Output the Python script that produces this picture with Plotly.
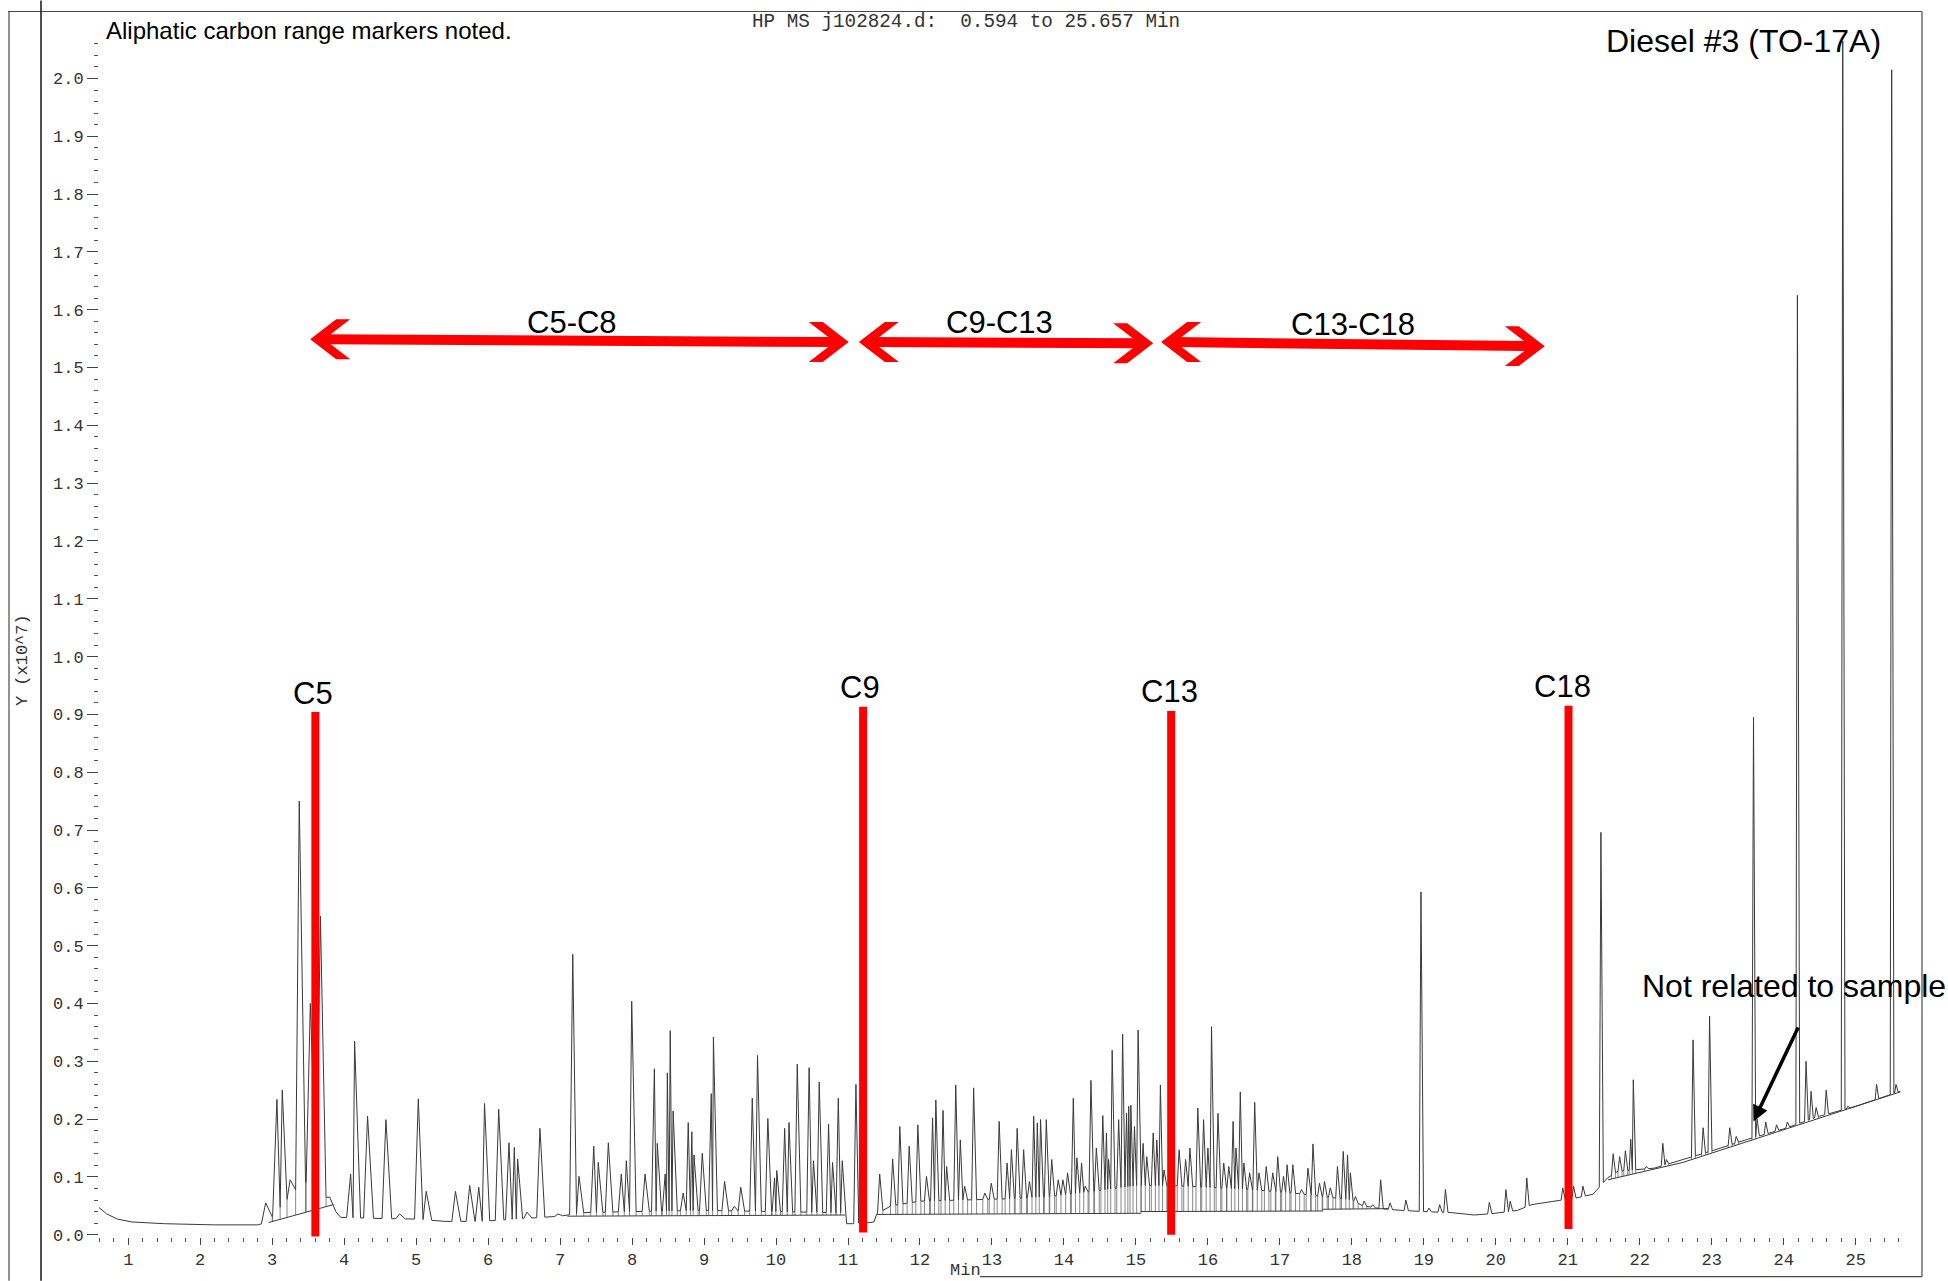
import numpy as np
import plotly.graph_objects as go

# ---------------------------------------------------------------------------
# Chromatogram: retention time (min) and apex response (Y x10^7)
# ---------------------------------------------------------------------------
peak_rt = [
    2.91, 3.066, 3.14, 3.25, 3.376, 3.53, 3.67, 3.80,
    4.09, 4.145, 4.325, 4.58, 4.77, 5.03, 5.14, 5.546, 5.744, 5.87, 5.95,
    6.147, 6.29, 6.364, 6.41, 6.54, 6.72, 6.97,
    7.176, 7.263, 7.468, 7.53, 7.67, 7.85, 7.92, 7.995, 8.18, 8.31, 8.35,
    8.46, 8.49, 8.53, 8.57, 8.71, 8.78, 8.83, 8.86, 8.975, 9.10, 9.13,
    9.285, 9.42, 9.51, 9.67, 9.743, 9.886, 9.98, 10.01, 10.12, 10.18,
    10.295, 10.46, 10.52, 10.60, 10.73, 10.785, 10.865, 10.92, 11.11,
    11.175, 11.44, 11.62,
    11.72, 11.85, 11.97, 12.09, 12.175, 12.22, 12.32, 12.37, 12.497, 12.56,
    12.62, 12.745, 12.90, 12.99, 13.10, 13.21, 13.27, 13.35, 13.44, 13.52,
    13.58, 13.63, 13.675, 13.755, 13.83, 13.92, 13.985, 14.05, 14.13, 14.18,
    14.245, 14.295, 14.375, 14.45, 14.54, 14.59, 14.62, 14.67, 14.76, 14.815,
    14.87, 14.90, 14.93, 14.98, 15.03, 15.10, 15.15, 15.24, 15.29, 15.34,
    15.39, 15.60, 15.69, 15.75, 15.86, 15.94, 16.00, 16.05, 16.14, 16.22,
    16.29, 16.35, 16.39, 16.45, 16.50, 16.58, 16.65, 16.71, 16.81, 16.90,
    16.97, 17.05, 17.10, 17.18, 17.30, 17.39, 17.46, 17.55, 17.62, 17.70,
    17.80, 17.88, 17.94, 17.98, 18.05, 18.17, 18.29, 18.40, 18.53, 18.75,
    18.96, 19.07, 19.22, 19.30, 19.91, 20.14, 20.20, 20.43, 20.93, 21.08,
    21.21, 21.46, 21.63, 21.72, 21.80, 21.875, 21.91, 22.09, 22.32, 22.37,
    22.74, 22.88, 22.97, 23.25, 23.34, 23.58, 23.63, 23.75, 23.90, 24.05,
    24.19, 24.31, 24.38, 24.45, 24.59, 24.82, 24.89, 25.29, 25.50, 25.56,
]
peak_apex = [
    0.055, 0.234, 0.250, 0.095, 0.750, 0.400, 0.551, 0.065,
    0.105, 0.335, 0.205, 0.199, 0.036, 0.235, 0.075, 0.075, 0.085, 0.082, 0.227,
    0.217, 0.159, 0.151, 0.131, 0.039, 0.184, 0.036,
    0.485, 0.101, 0.153, 0.125, 0.159, 0.105, 0.128, 0.404, 0.105, 0.287, 0.158,
    0.105, 0.280, 0.353, 0.214, 0.072, 0.194, 0.178, 0.138, 0.141, 0.244, 0.342,
    0.092, 0.049, 0.082, 0.236, 0.310, 0.201, 0.098, 0.111, 0.184, 0.194,
    0.295, 0.289, 0.128, 0.264, 0.191, 0.125, 0.236, 0.128, 0.260,
    0.288, 0.105, 0.131,
    0.187, 0.153, 0.190, 0.101, 0.202, 0.233, 0.215, 0.118, 0.259, 0.164,
    0.084, 0.254, 0.072, 0.089, 0.196, 0.124, 0.147, 0.184, 0.147, 0.092,
    0.205, 0.193, 0.199, 0.199, 0.130, 0.095, 0.095, 0.107, 0.236, 0.133,
    0.124, 0.084, 0.267, 0.150, 0.206, 0.176, 0.130, 0.319, 0.199, 0.347,
    0.210, 0.222, 0.224, 0.187, 0.354, 0.158, 0.135, 0.176, 0.164, 0.259,
    0.112, 0.147, 0.130, 0.150, 0.219, 0.199, 0.150, 0.360, 0.210, 0.124,
    0.118, 0.196, 0.150, 0.247, 0.124, 0.107, 0.229, 0.107, 0.118, 0.107,
    0.135, 0.101, 0.121, 0.121, 0.078, 0.115, 0.157, 0.089, 0.092, 0.081,
    0.118, 0.144, 0.138, 0.107, 0.066, 0.058, 0.052, 0.095, 0.055, 0.060,
    0.593, 0.046, 0.052, 0.078, 0.056, 0.078, 0.058, 0.098, 0.081, 0.084,
    0.084, 0.696, 0.140, 0.135, 0.145, 0.165, 0.268, 0.117, 0.158, 0.130,
    0.337, 0.185, 0.378, 0.185, 0.170, 0.895, 0.200, 0.195, 0.190, 0.195,
    1.625, 0.300, 0.248, 0.220, 0.250, 2.065, 0.220, 0.260, 2.015, 0.260,
]

# Signal level between peaks
floor_t = [0.594, 0.70, 0.85, 1.05, 1.5, 2.2, 2.8, 2.95, 3.02, 3.2, 3.3, 3.45,
           3.6, 3.72, 3.85, 3.95, 4.5, 5.0, 5.4, 5.9, 6.5, 7.0, 7.3, 8.0, 9.0,
           10.0, 10.9, 10.96, 10.98, 11.06, 11.3, 11.36, 11.40, 11.6, 12.0,
           12.6, 13.2, 13.8, 14.4, 15.0, 15.5, 16.0, 16.6, 17.2, 17.6, 18.0,
           18.15, 18.4, 18.7, 19.0, 19.4, 19.7, 20.0, 20.3, 20.5, 20.8, 21.1,
           21.35, 21.55, 21.7, 22.2, 22.6, 23.0, 23.5, 24.0, 24.5, 25.0, 25.62]
floor_y = [0.047, 0.036, 0.027, 0.022, 0.019, 0.017, 0.017, 0.022, 0.035, 0.060,
           0.075, 0.090, 0.095, 0.070, 0.045, 0.030, 0.028, 0.027, 0.023, 0.023,
           0.028, 0.032, 0.038, 0.040, 0.042, 0.040, 0.038, 0.034, 0.019, 0.019,
           0.021, 0.022, 0.036, 0.050, 0.058, 0.060, 0.062, 0.066, 0.075, 0.085,
           0.085, 0.082, 0.078, 0.072, 0.066, 0.060, 0.050, 0.045, 0.042, 0.040,
           0.038, 0.034, 0.037, 0.042, 0.052, 0.058, 0.063, 0.070, 0.098, 0.110,
           0.115, 0.130, 0.145, 0.165, 0.183, 0.205, 0.222, 0.248]

# Integration baselines (each pair of lists is one straight run)
integ_t = [[2.95, 3.85], [7.10, 10.96], [11.40, 15.07], [15.07, 17.60],
           [17.60, 18.50], [21.56, 22.60, 25.62]]
integ_y = [[0.021, 0.052], [0.032, 0.034], [0.035, 0.037], [0.040, 0.041],
           [0.044, 0.045], [0.095, 0.125, 0.247]]

# Carbon number markers
marker_labels = ["C5", "C9", "C13", "C18"]
marker_rt = [3.60, 11.21, 15.49, 21.01]
marker_top = [0.904, 0.913, 0.906, 0.915]
marker_bottom = [-0.003, 0.004, 0.0, 0.010]
marker_label_t = [3.57, 11.16, 15.46, 20.93]
marker_label_y = [0.937, 0.947, 0.939, 0.949]

# Carbon range spans
range_labels = ["C5-C8", "C9-C13", "C13-C18"]
range_start = [3.528, 11.15, 15.35]
range_end = [11.01, 15.24, 20.68]
range_y_start = [1.549, 1.544, 1.544]
range_y_end = [1.544, 1.542, 1.537]
range_label_t = [7.17, 13.11, 18.01]
range_label_y = [1.578, 1.578, 1.575]

# Contaminant note arrow (tail -> tip)
note_tail = (24.21, 0.361)
note_tip = (23.58, 0.196)

x_ticks = list(range(1, 26))
y_ticks = [round(0.1 * i, 1) for i in range(21)]

# ---------------------------------------------------------------------------
# Page geometry
# ---------------------------------------------------------------------------
W, H = 1948, 1281
M_L, M_R, M_T, M_B = 99, 45, 37.5, 43.7
X_RANGE = [0.594, 25.657]
Y_RANGE = [-0.004, 2.07]
PLOT_W = W - M_L - M_R
PLOT_H = H - M_T - M_B
PX_MIN = PLOT_W / (X_RANGE[1] - X_RANGE[0])
PX_UNIT = PLOT_H / (Y_RANGE[1] - Y_RANGE[0])


def xp(px):
    return (px - M_L) / PLOT_W


def yp(py):
    return (H - M_B - py) / PLOT_H


def floor_at(t):
    return float(np.interp(t, floor_t, floor_y))


def base_width(t):
    return float(np.interp(t, [3, 7, 12, 26], [0.15, 0.11, 0.07, 0.05]))


# ---------------------------------------------------------------------------
# Build the trace: each peak rises from the floor to its apex and tails off
# ---------------------------------------------------------------------------
order = np.argsort(peak_rt)
rt = np.array(peak_rt)[order]
ap = np.array(peak_apex)[order]
LEAD = 0.4
lw = np.array([LEAD * base_width(t) for t in rt])
rw = np.array([(1 - LEAD) * base_width(t) for t in rt])
left = rt - lw
right = rt + rw

pts = []
valleys = []
spans = []
i, n = 0, len(rt)
while i < n:
    j = i
    while j + 1 < n and left[j + 1] < right[j]:
        j += 1
    pts.append((left[i], floor_at(left[i])))
    valleys.append(left[i])
    for k in range(i, j + 1):
        pts.append((rt[k], max(ap[k], floor_at(rt[k]) + 0.004)))
        if k < j:
            d = rt[k + 1] - rt[k]
            tv = rt[k] + d * rw[k] / (rw[k] + lw[k + 1])
            pts.append((tv, floor_at(tv)))
            valleys.append(tv)
    pts.append((right[j], floor_at(right[j])))
    valleys.append(right[j])
    spans.append((left[i], right[j]))
    i = j + 1

for t, y in zip(floor_t, floor_y):
    if not any(a <= t <= b for a, b in spans):
        pts.append((t, y))
pts.sort(key=lambda p: p[0])
sig_t = [p[0] for p in pts]
sig_y = [p[1] for p in pts]

# Integration baseline polyline and drop lines from valleys
base_x, base_y = [], []
for ts, ys in zip(integ_t, integ_y):
    base_x += ts + [None]
    base_y += ys + [None]

drop_x, drop_y = [], []
for tv in valleys:
    for ts, ys in zip(integ_t, integ_y):
        if ts[0] <= tv <= ts[-1]:
            yb = float(np.interp(tv, ts, ys))
            ys_v = floor_at(tv)
            if ys_v - yb > 0.003:
                drop_x += [tv, tv, None]
                drop_y += [ys_v, yb, None]
            break

INK = "#3a3a3a"
RED = "#ff0000"
MONO = "Liberation Mono, DejaVu Sans Mono, monospace"
SANS = "Liberation Sans, Arial, sans-serif"

fig = go.Figure()
fig.add_trace(go.Scatter(x=drop_x, y=drop_y, mode="lines",
                         line=dict(color="#555555", width=0.7),
                         hoverinfo="skip", showlegend=False))
fig.add_trace(go.Scatter(x=base_x, y=base_y, mode="lines",
                         line=dict(color=INK, width=1),
                         hoverinfo="skip", showlegend=False))
fig.add_trace(go.Scatter(x=sig_t, y=sig_y, mode="lines",
                         line=dict(color=INK, width=1),
                         name="TIC", showlegend=False))

shapes = []
# Carbon number marker bars
for t, y0, y1 in zip(marker_rt, marker_bottom, marker_top):
    shapes.append(dict(type="line", xref="x", yref="y", x0=t, x1=t, y0=y0, y1=y1,
                       line=dict(color=RED, width=8), layer="above"))


# Double-headed range arrows: thick shaft plus chevron heads (sizes in px)
HEAD_ARM, HEAD_HALF, HEAD_THICK = 26, 20, 14


def chevron(x_tip, y_tip, direction):
    """Filled chevron whose tip sits at (x_tip, y_tip); arms open toward `direction`."""
    a = direction * HEAD_ARM / PX_MIN
    th = direction * HEAD_THICK / PX_MIN
    h = HEAD_HALF / PX_UNIT
    pts_ = [(x_tip, y_tip), (x_tip + a, y_tip + h), (x_tip + a + th, y_tip + h),
            (x_tip + th, y_tip), (x_tip + a + th, y_tip - h), (x_tip + a, y_tip - h)]
    return "M" + " L".join(f"{px},{py}" for px, py in pts_) + " Z"


notch = 0.8 * HEAD_THICK / PX_MIN
for x0, x1, y0, y1 in zip(range_start, range_end, range_y_start, range_y_end):
    shapes.append(dict(type="line", xref="x", yref="y", x0=x0 + notch, x1=x1 - notch,
                       y0=y0, y1=y1, line=dict(color=RED, width=10), layer="above"))
    shapes.append(dict(type="path", xref="x", yref="y", path=chevron(x1, y1, -1),
                       fillcolor=RED, line=dict(width=0), layer="above"))
    shapes.append(dict(type="path", xref="x", yref="y", path=chevron(x0, y0, 1),
                       fillcolor=RED, line=dict(width=0), layer="above"))

# Scanned page frame
FR = dict(color="#4a4a4a", width=1.2)
shapes += [
    dict(type="line", xref="paper", yref="paper", x0=xp(8), x1=xp(1922), y0=yp(11), y1=yp(11), line=FR),
    dict(type="line", xref="paper", yref="paper", x0=xp(1922), x1=xp(1922), y0=yp(11), y1=yp(1277), line=FR),
    dict(type="line", xref="paper", yref="paper", x0=xp(980), x1=xp(1922), y0=yp(1277), y1=yp(1277), line=FR),
    dict(type="line", xref="paper", yref="paper", x0=xp(9), x1=xp(9), y0=yp(11), y1=yp(1281), line=FR),
    dict(type="line", xref="paper", yref="paper", x0=xp(41), x1=xp(41), y0=yp(0), y1=yp(1281),
         line=dict(color="#222222", width=1.6)),
]

ann = []
for lab, t, y in zip(marker_labels, marker_label_t, marker_label_y):
    ann.append(dict(x=t, y=y, xref="x", yref="y", text=lab, showarrow=False,
                    font=dict(family=SANS, size=31, color="black"),
                    xanchor="center", yanchor="middle"))
for lab, t, y in zip(range_labels, range_label_t, range_label_y):
    ann.append(dict(x=t, y=y, xref="x", yref="y", text=lab, showarrow=False,
                    font=dict(family=SANS, size=31, color="black"),
                    xanchor="center", yanchor="middle"))
ann.append(dict(x=note_tip[0], y=note_tip[1], xref="x", yref="y",
                ax=note_tail[0], ay=note_tail[1], axref="x", ayref="y",
                text="", showarrow=True, arrowhead=2, arrowsize=0.9,
                arrowwidth=3.5, arrowcolor="black", standoff=0))
ann += [
    dict(x=xp(1640), y=yp(986), xref="paper", yref="paper", text="Not related to sample",
         showarrow=False, xanchor="left", yanchor="middle",
         font=dict(family=SANS, size=32, color="black")),
    dict(x=xp(104), y=yp(30), xref="paper", yref="paper",
         text="Aliphatic carbon range markers noted.", showarrow=False,
         xanchor="left", yanchor="middle", font=dict(family=SANS, size=24, color="black")),
    dict(x=xp(1743), y=yp(41), xref="paper", yref="paper", text="Diesel #3 (TO-17A)",
         showarrow=False, xanchor="center", yanchor="middle",
         font=dict(family=SANS, size=32, color="black")),
    dict(x=xp(966), y=yp(21), xref="paper", yref="paper",
         text="HP MS j102824.d:\u00a0\u00a00.594 to 25.657 Min", showarrow=False,
         xanchor="center", yanchor="middle", font=dict(family=MONO, size=19.3, color="#333333")),
    dict(x=xp(22), y=yp(660), xref="paper", yref="paper", text="Y (x10^7)",
         showarrow=False, textangle=-90, xanchor="center", yanchor="middle",
         font=dict(family=MONO, size=17, color="#333333")),
    dict(x=xp(965), y=yp(1271), xref="paper", yref="paper", text="Min",
         showarrow=False, xanchor="center", yanchor="middle",
         font=dict(family=MONO, size=17, color="#333333")),
]

fig.update_layout(
    width=W, height=H,
    margin=dict(l=M_L, r=M_R, t=M_T, b=M_B, pad=0),
    paper_bgcolor="white", plot_bgcolor="white",
    shapes=shapes, annotations=ann, showlegend=False,
    xaxis=dict(range=X_RANGE, tickvals=x_ticks, ticktext=[str(v) for v in x_ticks],
               ticks="outside", ticklen=7, tickwidth=1, tickcolor="#444444",
               showgrid=False, zeroline=False, showline=False,
               tickfont=dict(family=MONO, size=17, color="#333333"),
               minor=dict(dtick=0.2, tick0=0, ticks="outside", ticklen=4,
                          tickwidth=1, tickcolor="#555555", showgrid=False)),
    yaxis=dict(range=Y_RANGE, tickvals=y_ticks, ticktext=[f"{v:.1f}" for v in y_ticks],
               ticks="outside", ticklen=11, tickwidth=1, tickcolor="#444444",
               showgrid=False, zeroline=False, showline=False,
               tickfont=dict(family=MONO, size=17, color="#333333"),
               minor=dict(dtick=0.02, tick0=0, ticks="outside", ticklen=4,
                          tickwidth=1, tickcolor="#555555", showgrid=False)),
)

fig.write_html("out.html")
